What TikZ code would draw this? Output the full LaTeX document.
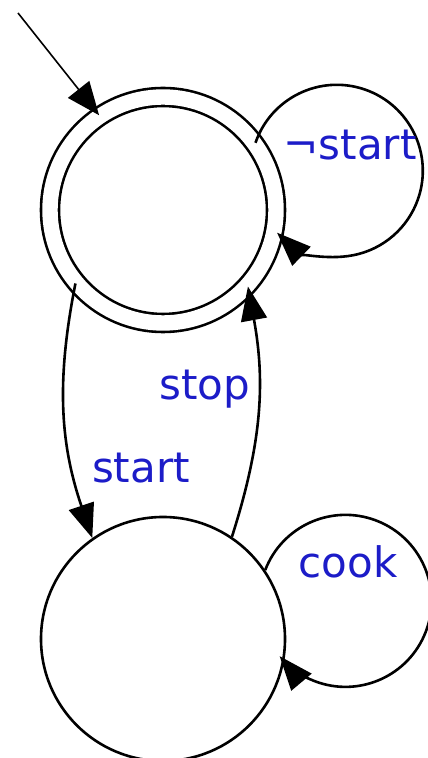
\documentclass[tikz,border=0pt]{standalone}
\usepackage{fontspec}
\setmainfont{DejaVu Sans}
\usetikzlibrary{arrows.meta}
\definecolor{lblue}{RGB}{28,28,200}
\begin{document}
\begin{tikzpicture}[x=1pt,y=1pt,
  state/.style={circle, draw, line width=2.6pt, minimum size=244pt, inner sep=0pt},
  accstate/.style={circle, draw, line width=2.6pt, double, double distance=15.4pt, minimum size=226pt, inner sep=0pt},
  edge/.style={line width=2.6pt, -{Triangle[length=34pt,width=26pt]}},
  initedge/.style={line width=1.6pt, -{Triangle[length=33pt,width=27pt]}},
  lbl/.style={text=lblue, font=\fontsize{42}{50}\selectfont, inner sep=0pt}]
\useasboundingbox (0,0) rectangle (428,758);
\node[accstate] (q0) at (163,548) {};
\node[state] (q1) at (163,119) {};
\coordinate (init) at (18,745);
\draw[initedge] (init) -- (q0.124);
\draw[edge] (q0.36) arc[start angle=161, end angle=-134, radius=86];
\draw[edge] (q1.34) arc[start angle=159, end angle=-140, radius=86];
\draw[edge] (q0.220) to[bend right=15] (q1.125);
\draw[edge] (q1.56) to[bend right=14] (q0.-42);
\node[lbl] (lnotstart) at (350,613) {¬start};
\node[lbl] (lcook) at (348,196) {cook};
\node[lbl] (lstart) at (141,290) {start};
\node[lbl] (lstop) at (205,369) {stop};
\end{tikzpicture}
\end{document}
